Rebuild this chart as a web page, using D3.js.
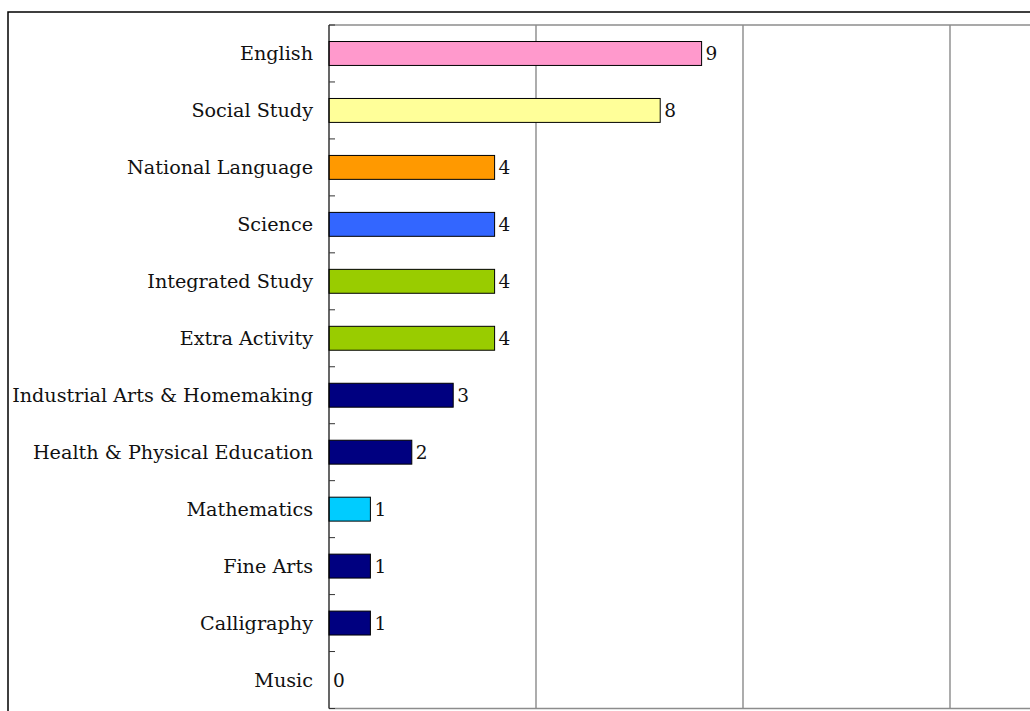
<!DOCTYPE html>
<html>
<head>
<meta charset="utf-8">
<script src="https://cdn.jsdelivr.net/npm/d3@7"></script>
<style>
  html, body { margin: 0; padding: 0; background: #fff; }
  svg { display: block; }
  text { font-family: "DejaVu Serif", "Liberation Serif", serif; }
</style>
</head>
<body>
<svg id="chart" width="1030" height="711"></svg>
<script>
// Subjects, top to bottom
const subjects = [
  "English", "Social Study", "National Language", "Science",
  "Integrated Study", "Extra Activity", "Industrial Arts & Homemaking",
  "Health & Physical Education", "Mathematics", "Fine Arts",
  "Calligraphy", "Music"
];
const counts = [9, 8, 4, 4, 4, 4, 3, 2, 1, 1, 1, 0];
const barColors = [
  "#FF99CC", "#FFFF99", "#FF9900", "#3366FF",
  "#99CC00", "#99CC00", "#000080",
  "#000080", "#00CCFF", "#000080",
  "#000080", "#000080"
];
const xTicks = [0, 5, 10, 15, 20];

(function draw() {
  const svg = d3.select("#chart");
  const W = 1030, H = 711;

  // plot area (continues past the right edge of the page)
  const plotLeft = 329, plotTop = 25, plotBottom = 708.5;
  const x = d3.scaleLinear().domain([0, 20]).range([plotLeft, plotLeft + 828]);
  const y = d3.scaleBand().domain(subjects).range([plotTop, plotBottom])
    .paddingInner(0.58).paddingOuter(0.29);

  // outer chart frame
  svg.append("path")
    .attr("d", `M8,${H + 5} V12 H${W + 5}`)
    .attr("fill", "none").attr("stroke", "#000").attr("stroke-width", 1.5);

  // vertical gridlines
  svg.append("g").selectAll("line")
    .data(xTicks.filter(t => t > 0))
    .join("line")
    .attr("x1", d => x(d)).attr("x2", d => x(d))
    .attr("y1", plotTop).attr("y2", plotBottom)
    .attr("stroke", "#808080").attr("stroke-width", 1.3);

  // plot area top and bottom edges
  svg.append("line").attr("x1", plotLeft).attr("x2", W + 5).attr("y1", plotTop).attr("y2", plotTop)
    .attr("stroke", "#8c8c8c").attr("stroke-width", 1.5);
  svg.append("line").attr("x1", plotLeft).attr("x2", W + 5).attr("y1", plotBottom).attr("y2", plotBottom)
    .attr("stroke", "#8c8c8c").attr("stroke-width", 1.5);

  // bars
  svg.append("g").selectAll("rect")
    .data(subjects)
    .join("rect")
    .attr("x", x(0))
    .attr("y", d => y(d))
    .attr("width", (d, i) => x(counts[i]) - x(0))
    .attr("height", y.bandwidth())
    .attr("fill", (d, i) => barColors[i])
    .attr("stroke", (d, i) => counts[i] > 0 ? "#000" : "none")
    .attr("stroke-width", 1);

  // category axis with ticks at band boundaries
  const yAxis = svg.append("g").attr("transform", `translate(${plotLeft},0)`);
  yAxis.append("line").attr("x1", 0).attr("x2", 0).attr("y1", plotTop).attr("y2", plotBottom)
    .attr("stroke", "#000").attr("stroke-width", 1.2);
  const boundaries = d3.range(subjects.length + 1)
    .map(i => plotTop + i * (plotBottom - plotTop) / subjects.length);
  yAxis.selectAll("line.tick")
    .data(boundaries)
    .join("line").attr("class", "tick")
    .attr("x1", 0).attr("x2", 6)
    .attr("y1", d => d).attr("y2", d => d)
    .attr("stroke", "#333").attr("stroke-width", 1);
  yAxis.selectAll("text")
    .data(subjects)
    .join("text")
    .attr("x", -16)
    .attr("y", d => y(d) + y.bandwidth() / 2)
    .attr("dy", "0.36em")
    .attr("text-anchor", "end")
    .attr("font-size", 19.2)
    .attr("fill", "#111")
    .text(d => d);

  // value labels
  svg.append("g").selectAll("text")
    .data(subjects)
    .join("text")
    .attr("x", (d, i) => x(counts[i]) + 4)
    .attr("y", d => y(d) + y.bandwidth() / 2)
    .attr("dy", "0.36em")
    .attr("font-size", 18.5)
    .attr("fill", "#111")
    .text((d, i) => counts[i]);
})();
</script>
</body>
</html>
